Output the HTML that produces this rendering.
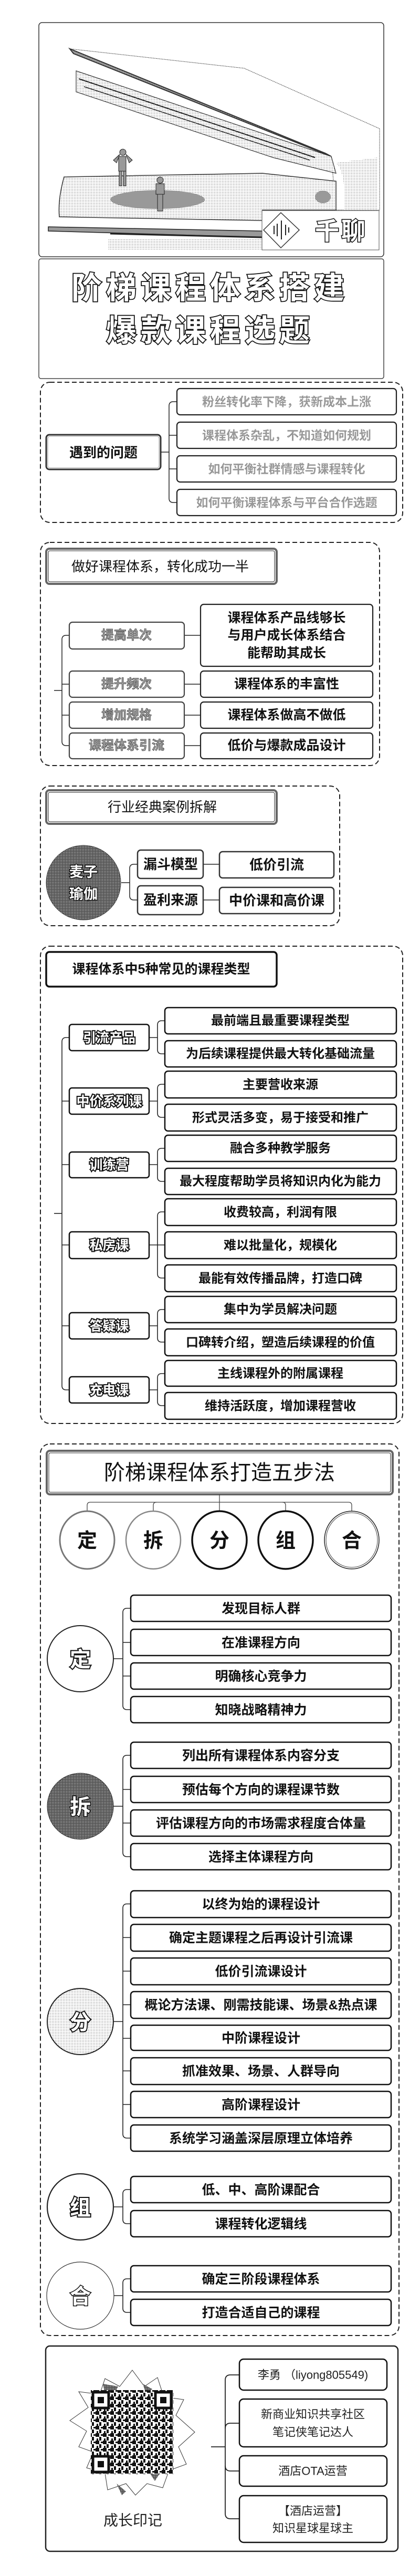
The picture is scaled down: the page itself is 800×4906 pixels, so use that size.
<!DOCTYPE html>
<html><head><meta charset="utf-8">
<style>
html,body{margin:0;padding:0;background:#fff;}
svg{display:block;}
text{font-family:"Liberation Sans","Noto Sans CJK SC",sans-serif;}
.b{font-weight:bold;fill:#111;}
.o{font-weight:bold;fill:#fff;stroke:#111;stroke-width:2.5;paint-order:stroke;}
.g{font-weight:bold;fill:#fff;stroke:#444;stroke-width:2.6;paint-order:stroke;}
</style></head>
<body>
<svg width="800" height="4906" viewBox="0 0 800 4906" xmlns="http://www.w3.org/2000/svg">
<defs>
<pattern id="dots" width="3" height="3" patternUnits="userSpaceOnUse"><rect width="3" height="3" fill="#fff"/><rect width="1" height="1" fill="#555"/></pattern>
<pattern id="dark" width="3" height="3" patternUnits="userSpaceOnUse"><rect width="3" height="3" fill="#555"/><rect width="1" height="1" fill="#fff"/></pattern>
<pattern id="mid" width="2" height="2" patternUnits="userSpaceOnUse"><rect width="2" height="2" fill="#fff"/><rect width="1" height="1" fill="#333"/><rect x="1" y="1" width="1" height="1" fill="#333"/></pattern>
<pattern id="qr" width="14" height="14" patternUnits="userSpaceOnUse"><rect width="14" height="14" fill="#fff"/><rect x="0" y="0" width="7" height="7" fill="#111"/><rect x="7" y="7" width="4" height="7" fill="#111"/><rect x="10" y="2" width="4" height="3" fill="#111"/><rect x="2" y="10" width="3" height="4" fill="#111"/></pattern>
</defs>

<!-- ===== Header image ===== -->
<rect x="74" y="43" width="657" height="446" rx="6" fill="#fff" stroke="#333" stroke-width="1.5"/>
<polygon points="133,93 465,130 723,245 723,400 640,400 631,298" fill="#fff" stroke="#444" stroke-width="1" stroke-dasharray="2 1"/>
<polygon points="133,93 140,102 631,298 620,292" fill="url(#mid)" stroke="#333" stroke-width="2"/>
<polygon points="145,135 631,298 640,330 520,300 145,175" fill="url(#dots)" stroke="#333" stroke-width="1.2"/>
<line x1="150" y1="150" x2="600" y2="300" stroke="#222" stroke-width="2"/>
<line x1="160" y1="165" x2="590" y2="305" stroke="#222" stroke-width="1.5"/>
<path d="M640,310 Q660,330 655,400 L720,400 L720,300 Z" fill="url(#dots)"/>
<path d="M122,337 L500,330 L640,345 L640,400 L500,400 L500,420 L113,413 Q110,380 122,337 Z" fill="url(#dots)" stroke="#333" stroke-width="1.5"/>
<ellipse cx="300" cy="380" rx="90" ry="18" fill="url(#mid)"/>
<ellipse cx="615" cy="375" rx="15" ry="12" fill="url(#mid)"/>
<path d="M92,432 L500,440 L500,452 L92,440 Z" fill="url(#mid)" stroke="#222" stroke-width="1.5"/>
<path d="M205,455 L500,455 L500,475 L205,475 Z" fill="url(#dots)"/>
<line x1="210" y1="445" x2="500" y2="452" stroke="#222" stroke-width="3"/>
<g fill="url(#mid)" stroke="#222" stroke-width="1">
<circle cx="234" cy="290" r="6"/><rect x="226" y="298" width="14" height="28"/><rect x="227" y="326" width="5" height="28"/><rect x="235" y="326" width="5" height="28"/>
<path d="M228,294 L216,305 L222,310 Z"/><path d="M240,294 L252,305 L246,310 Z"/>
<circle cx="305" cy="343" r="6"/><rect x="297" y="350" width="16" height="20"/><rect x="300" y="370" width="10" height="32"/>
</g>
<rect x="499" y="401" width="223" height="75" fill="#fff" stroke="#555" stroke-width="1"/>
<polygon points="535,405 570,438 535,472 502,438" fill="#fff" stroke="#333" stroke-width="1.5"/>
<g stroke="#222" stroke-width="2"><line x1="522" y1="430" x2="522" y2="446"/><line x1="528" y1="426" x2="528" y2="450"/><line x1="536" y1="420" x2="536" y2="456"/><line x1="544" y1="428" x2="544" y2="448"/><line x1="550" y1="433" x2="550" y2="443"/></g>
<text x="650" y="440" font-size="46" text-anchor="middle" dominant-baseline="central" class="o" letter-spacing="4" style="stroke-width:3">千聊</text>

<!-- ===== Title ===== -->
<rect x="74" y="493" width="657" height="228" rx="4" fill="#fff" stroke="#444" stroke-width="1.5"/>
<text x="400" y="549" font-size="58" text-anchor="middle" dominant-baseline="central" class="o" letter-spacing="8" style="stroke-width:3.5">阶梯课程体系搭建</text>
<text x="400" y="630" font-size="58" text-anchor="middle" dominant-baseline="central" class="o" letter-spacing="8" style="stroke-width:3.5">爆款课程选题</text>

<g fill="none" stroke="#222" stroke-width="2" stroke-dasharray="9 5">
<rect x="77" y="728" width="690" height="267" rx="18"/>
<rect x="77" y="1033" width="646" height="425" rx="18"/>
<rect x="77" y="1497" width="570" height="266" rx="18"/>
<rect x="77" y="1802" width="690" height="909" rx="18"/>
<rect x="77" y="2750" width="683" height="1698" rx="18"/>
</g>

<!-- ===== Section 1 ===== -->
<rect x="88" y="828" width="218" height="66" rx="6" fill="#fff" stroke="#333" stroke-width="3"/>
<rect x="91" y="831" width="212" height="60" rx="4" fill="none" stroke="#999" stroke-width="1"/>
<text x="197" y="862" font-size="26" text-anchor="middle" dominant-baseline="central" class="b">遇到的问题</text>
<g fill="none" stroke="#222" stroke-width="1.5">
<path d="M306,861 H322"/>
<path d="M337,765 H330 Q322,765 322,773 V949 Q322,957 330,957 H337"/>
<path d="M322,829 H337 M322,893 H337"/>
</g>
<g fill="#fff" stroke="#222" stroke-width="2.2">
<rect x="337" y="740" width="418" height="50" rx="6"/><rect x="337" y="804" width="418" height="50" rx="6"/>
<rect x="337" y="868" width="418" height="50" rx="6"/><rect x="337" y="932" width="418" height="50" rx="6"/>
</g>
<g font-size="23" text-anchor="middle" dominant-baseline="central" font-weight="bold" fill="url(#mid)">
<text x="546" y="765">粉丝转化率下降，获新成本上涨</text>
<text x="546" y="829">课程体系杂乱，不知道如何规划</text>
<text x="546" y="893">如何平衡社群情感与课程转化</text>
<text x="546" y="957">如何平衡课程体系与平台合作选题</text>
</g>

<!-- ===== Section 2 ===== -->
<rect x="88" y="1045" width="439" height="67" rx="6" fill="#fff" stroke="#666" stroke-width="4"/>
<rect x="92" y="1049" width="431" height="59" rx="3" fill="none" stroke="#222" stroke-width="1"/>
<text x="305" y="1079" font-size="26" text-anchor="middle" dominant-baseline="central" fill="#111">做好课程体系，转化成功一半</text>
<g fill="none" stroke="#222" stroke-width="1.5">
<path d="M103,1315 H118"/>
<path d="M132,1210 H126 Q118,1210 118,1218 V1412 Q118,1420 126,1420 H132"/>
<path d="M118,1303 H132 M118,1362 H132"/>
<path d="M351,1210 H382 M351,1303 H382 M351,1362 H382 M351,1420 H382"/>
</g>
<g fill="#fff" stroke="#444" stroke-width="2.2">
<rect x="132" y="1185" width="219" height="51" rx="6"/><rect x="132" y="1278" width="219" height="50" rx="6"/>
<rect x="132" y="1337" width="219" height="50" rx="6"/><rect x="132" y="1396" width="219" height="49" rx="6"/>
</g>
<g fill="#fff" stroke="#222" stroke-width="2.2">
<rect x="382" y="1151" width="328" height="118" rx="6"/><rect x="382" y="1278" width="328" height="50" rx="6"/>
<rect x="382" y="1337" width="328" height="50" rx="6"/><rect x="382" y="1396" width="328" height="49" rx="6"/>
</g>
<g font-size="24" text-anchor="middle" dominant-baseline="central" font-weight="bold" fill="url(#mid)" stroke="#555" stroke-width="0.8">
<text x="241" y="1210">提高单次</text><text x="241" y="1303">提升频次</text>
<text x="241" y="1362">增加规格</text><text x="241" y="1420">课程体系引流</text>
</g>
<g font-size="25" text-anchor="middle" dominant-baseline="central" class="b">
<text x="546" y="1177">课程体系产品线够长</text><text x="546" y="1210">与用户成长体系结合</text><text x="546" y="1244">能帮助其成长</text>
<text x="546" y="1303">课程体系的丰富性</text><text x="546" y="1362">课程体系做高不做低</text><text x="546" y="1420">低价与爆款成品设计</text>
</g>

<!-- ===== Section 3 ===== -->
<rect x="88" y="1505" width="439" height="64" rx="6" fill="#fff" stroke="#666" stroke-width="4"/>
<rect x="92" y="1509" width="431" height="56" rx="3" fill="none" stroke="#222" stroke-width="1"/>
<text x="309" y="1537" font-size="26" text-anchor="middle" dominant-baseline="central" fill="#111">行业经典案例拆解</text>
<circle cx="159" cy="1681" r="71" fill="url(#dark)" stroke="#444" stroke-width="1"/>
<text x="159" y="1661" font-size="27" text-anchor="middle" dominant-baseline="central" class="o" style="stroke-width:3">麦子</text>
<text x="159" y="1703" font-size="27" text-anchor="middle" dominant-baseline="central" class="o" style="stroke-width:3">瑜伽</text>
<g fill="none" stroke="#222" stroke-width="1.5">
<path d="M231,1681 H247"/>
<path d="M262,1646 H255 Q247,1646 247,1654 V1706 Q247,1714 255,1714 H262"/>
<path d="M387,1646 H418 M387,1714 H418"/>
</g>
<g fill="#fff" stroke="#333" stroke-width="2.5">
<rect x="262" y="1619" width="125" height="54" rx="6"/><rect x="262" y="1687" width="125" height="55" rx="6"/>
<rect x="418" y="1622" width="218" height="50" rx="6"/><rect x="418" y="1690" width="218" height="50" rx="6"/>
</g>
<g font-size="26" text-anchor="middle" dominant-baseline="central" class="b">
<text x="325" y="1646">漏斗模型</text><text x="325" y="1714">盈利来源</text>
<text x="527" y="1647">低价引流</text><text x="527" y="1715">中价课和高价课</text>
</g>

<!-- ===== Section 4 ===== -->
<rect x="88" y="1813" width="439" height="66" rx="6" fill="#fff" stroke="#111" stroke-width="3.5"/>
<text x="307" y="1846" font-size="25" text-anchor="middle" dominant-baseline="central" class="b">课程体系中5种常见的课程类型</text>
<g fill="none" stroke="#222" stroke-width="1.6">
<path d="M103,2311 H118"/>
<path d="M132,1976 H126 Q118,1976 118,1984 V2639 Q118,2647 126,2647 H132"/>
<path d="M118,2097 H132 M118,2218 H132 M118,2371 H132 M118,2525 H132"/>
<path d="M284,1976 H300 M314,1944 H308 Q300,1944 300,1952 V1999 Q300,2007 308,2007 H314"/>
<path d="M284,2097 H300 M314,2065 H308 Q300,2065 300,2073 V2120 Q300,2128 308,2128 H314"/>
<path d="M284,2218 H300 M314,2187 H308 Q300,2187 300,2195 V2242 Q300,2250 308,2250 H314"/>
<path d="M284,2371 H314 M314,2308 H308 Q300,2308 300,2316 V2426 Q300,2434 308,2434 H314"/>
<path d="M284,2525 H300 M314,2494 H308 Q300,2494 300,2502 V2548 Q300,2556 308,2556 H314"/>
<path d="M284,2647 H300 M314,2616 H308 Q300,2616 300,2624 V2669 Q300,2677 308,2677 H314"/>
</g>
<g fill="#fff" stroke="#111" stroke-width="2.5">
<rect x="132" y="1951" width="152" height="50" rx="5"/><rect x="132" y="2072" width="152" height="50" rx="5"/>
<rect x="132" y="2194" width="152" height="49" rx="5"/><rect x="132" y="2346" width="152" height="51" rx="5"/>
<rect x="132" y="2500" width="152" height="50" rx="5"/><rect x="132" y="2622" width="152" height="50" rx="5"/>
<rect x="314" y="1919" width="441" height="50" rx="6"/><rect x="314" y="1982" width="441" height="50" rx="6"/>
<rect x="314" y="2040" width="441" height="51" rx="6"/><rect x="314" y="2103" width="441" height="51" rx="6"/>
<rect x="314" y="2162" width="441" height="50" rx="6"/><rect x="314" y="2225" width="441" height="50" rx="6"/>
<rect x="314" y="2283" width="441" height="51" rx="6"/><rect x="314" y="2346" width="441" height="51" rx="6"/>
<rect x="314" y="2409" width="441" height="51" rx="6"/><rect x="314" y="2469" width="441" height="50" rx="6"/>
<rect x="314" y="2531" width="441" height="51" rx="6"/><rect x="314" y="2591" width="441" height="49" rx="6"/>
<rect x="314" y="2652" width="441" height="51" rx="6"/>
</g>
<g font-size="25" text-anchor="middle" dominant-baseline="central" class="o" style="stroke-width:4">
<text x="208" y="1977">引流产品</text><text x="208" y="2098">中价系列课</text><text x="208" y="2219">训练营</text>
<text x="208" y="2372">私房课</text><text x="208" y="2526">答疑课</text><text x="208" y="2648">充电课</text>
</g>
<g font-size="24" text-anchor="middle" dominant-baseline="central" class="b">
<text x="534" y="1944">最前端且最重要课程类型</text><text x="534" y="2007">为后续课程提供最大转化基础流量</text>
<text x="534" y="2066">主要营收来源</text><text x="534" y="2129">形式灵活多变，易于接受和推广</text>
<text x="534" y="2187">融合多种教学服务</text><text x="534" y="2250">最大程度帮助学员将知识内化为能力</text>
<text x="534" y="2309">收费较高，利润有限</text><text x="534" y="2372">难以批量化，规模化</text>
<text x="534" y="2435">最能有效传播品牌，打造口碑</text><text x="534" y="2494">集中为学员解决问题</text>
<text x="534" y="2557">口碑转介绍，塑造后续课程的价值</text><text x="534" y="2616">主线课程外的附属课程</text>
<text x="534" y="2678">维持活跃度，增加课程营收</text>
</g>

<!-- ===== Section 5 ===== -->
<rect x="89" y="2763" width="659" height="83" rx="6" fill="#fff" stroke="#666" stroke-width="4"/>
<rect x="93" y="2767" width="651" height="75" rx="3" fill="none" stroke="#222" stroke-width="1"/>
<text x="418" y="2805" font-size="40" text-anchor="middle" dominant-baseline="central" fill="#111">阶梯课程体系打造五步法</text>
<g fill="none" stroke="#444" stroke-width="1.3">
<path d="M418,2846 V2878"/>
<path d="M166,2878 V2867 Q166,2861 172,2861 H664 Q670,2861 670,2867 V2878"/>
<path d="M292,2878 V2867 Q292,2861 298,2861 M544,2878 V2867 Q544,2861 538,2861"/>
</g>
<ellipse cx="166" cy="2933" rx="52" ry="55" fill="#fff" stroke="#777" stroke-width="3"/>
<ellipse cx="292" cy="2933" rx="52" ry="55" fill="#fff" stroke="#888" stroke-width="2.5"/>
<ellipse cx="418" cy="2933" rx="52" ry="55" fill="#fff" stroke="#111" stroke-width="3.5"/>
<ellipse cx="544" cy="2933" rx="52" ry="55" fill="#fff" stroke="#111" stroke-width="3.5"/>
<ellipse cx="670" cy="2933" rx="52" ry="55" fill="#fff" stroke="#222" stroke-width="1.5"/>
<ellipse cx="670" cy="2933" rx="49" ry="52" fill="none" stroke="#444" stroke-width="1"/>
<g font-size="38" text-anchor="middle" dominant-baseline="central" class="b">
<text x="166" y="2935">定</text><text x="292" y="2935">拆</text><text x="418" y="2935">分</text><text x="544" y="2935">组</text><text x="670" y="2935">合</text>
</g>

<circle cx="153" cy="3159" r="63" fill="#fff" stroke="#222" stroke-width="2"/>
<text x="153" y="3161" font-size="40" text-anchor="middle" dominant-baseline="central" class="o" style="stroke-width:4">定</text>
<circle cx="153" cy="3440" r="63" fill="url(#dark)" stroke="#333" stroke-width="1"/>
<text x="153" y="3442" font-size="40" text-anchor="middle" dominant-baseline="central" class="o" style="stroke-width:3">拆</text>
<circle cx="153" cy="3850" r="63" fill="url(#dots)" stroke="#222" stroke-width="2"/>
<text x="153" y="3852" font-size="40" text-anchor="middle" dominant-baseline="central" class="o" style="stroke-width:4">分</text>
<circle cx="153" cy="4203" r="63" fill="#fff" stroke="#222" stroke-width="2.2"/>
<text x="153" y="4205" font-size="40" text-anchor="middle" dominant-baseline="central" class="o" style="stroke-width:4">组</text>
<circle cx="153" cy="4372" r="64" fill="#fff" stroke="#333" stroke-width="1.2"/>
<text x="153" y="4374" font-size="40" text-anchor="middle" dominant-baseline="central" class="o" style="stroke-width:3">合</text>

<g fill="none" stroke="#222" stroke-width="1.6">
<path d="M216,3159 H234 M249,3063 H242 Q234,3063 234,3071 V3248 Q234,3256 242,3256 H249 M234,3128 H249 M234,3192 H249"/>
<path d="M216,3440 H234 M249,3343 H242 Q234,3343 234,3351 V3528 Q234,3536 242,3536 H249 M234,3408 H249 M234,3472 H249"/>
<path d="M216,3850 H234 M249,3626 H242 Q234,3626 234,3634 V4064 Q234,4072 242,4072 H249 M234,3690 H249 M234,3754 H249 M234,3818 H249 M234,3882 H249 M234,3944 H249 M234,4008 H249"/>
<path d="M216,4203 H234 M249,4170 H242 Q234,4170 234,4178 V4227 Q234,4235 242,4235 H249"/>
<path d="M217,4372 H234 M249,4340 H242 Q234,4340 234,4348 V4396 Q234,4404 242,4404 H249"/>
</g>
<g fill="#fff" stroke="#111" stroke-width="2.5">
<rect x="249" y="3038" width="496" height="50" rx="6"/><rect x="249" y="3103" width="496" height="50" rx="6"/>
<rect x="249" y="3167" width="496" height="50" rx="6"/><rect x="249" y="3231" width="496" height="50" rx="6"/>
<rect x="249" y="3318" width="496" height="50" rx="6"/><rect x="249" y="3383" width="496" height="50" rx="6"/>
<rect x="249" y="3447" width="496" height="50" rx="6"/><rect x="249" y="3511" width="496" height="50" rx="6"/>
<rect x="249" y="3601" width="496" height="51" rx="6"/><rect x="249" y="3665" width="496" height="51" rx="6"/>
<rect x="249" y="3729" width="496" height="51" rx="6"/><rect x="249" y="3793" width="496" height="51" rx="6"/>
<rect x="249" y="3857" width="496" height="48" rx="6"/><rect x="249" y="3919" width="496" height="51" rx="6"/>
<rect x="249" y="3983" width="496" height="50" rx="6"/><rect x="249" y="4047" width="496" height="50" rx="6"/>
<rect x="249" y="4145" width="496" height="50" rx="6"/><rect x="249" y="4210" width="496" height="50" rx="6"/>
<rect x="249" y="4315" width="496" height="50" rx="6"/><rect x="249" y="4379" width="496" height="50" rx="6"/>
</g>
<g font-size="25" text-anchor="middle" dominant-baseline="central" class="b">
<text x="497" y="3064">发现目标人群</text><text x="497" y="3129">在准课程方向</text>
<text x="497" y="3193">明确核心竞争力</text><text x="497" y="3257">知晓战略精神力</text>
<text x="497" y="3344">列出所有课程体系内容分支</text><text x="497" y="3409">预估每个方向的课程课节数</text>
<text x="497" y="3473">评估课程方向的市场需求程度合体量</text><text x="497" y="3537">选择主体课程方向</text>
<text x="497" y="3627">以终为始的课程设计</text><text x="497" y="3691">确定主题课程之后再设计引流课</text>
<text x="497" y="3755">低价引流课设计</text><text x="497" y="3819">概论方法课、刚需技能课、场景&amp;热点课</text>
<text x="497" y="3882">中阶课程设计</text><text x="497" y="3945">抓准效果、场景、人群导向</text>
<text x="497" y="4009">高阶课程设计</text><text x="497" y="4073">系统学习涵盖深层原理立体培养</text>
<text x="497" y="4171">低、中、高阶课配合</text><text x="497" y="4236">课程转化逻辑线</text>
<text x="497" y="4341">确定三阶段课程体系</text><text x="497" y="4405">打造合适自己的课程</text>
</g>

<!-- ===== Footer ===== -->
<rect x="87" y="4468" width="671" height="391" rx="8" fill="#fff" stroke="#222" stroke-width="2.5"/>
<polygon points="252,4514 275,4545 300,4528 312,4565 350,4570 335,4600 371,4632 340,4660 355,4693 322,4705 310,4738 280,4730 258,4752 240,4730 205,4742 200,4710 165,4700 178,4670 150,4660 165,4630 133,4610 168,4585 150,4555 190,4560 200,4530 228,4545" fill="#fff" stroke="#333" stroke-width="1"/>
<polygon points="196,4540 225,4545 215,4565 200,4560" fill="url(#dark)"/>
<polygon points="272,4540 290,4550 280,4565" fill="url(#dark)"/>
<polygon points="222,4730 240,4745 232,4752" fill="url(#dark)"/>
<polygon points="282,4705 308,4705 295,4725" fill="url(#dark)"/>
<rect x="173" y="4552" width="157" height="160" fill="url(#qr)"/>
<g fill="#fff" stroke="#111" stroke-width="5">
<rect x="177" y="4556" width="30" height="30"/><rect x="296" y="4556" width="30" height="30"/><rect x="177" y="4678" width="30" height="30"/>
</g>
<g fill="#111"><rect x="186" y="4565" width="12" height="12"/><rect x="305" y="4565" width="12" height="12"/><rect x="186" y="4687" width="12" height="12"/></g>
<text x="253" y="4800" font-size="28" text-anchor="middle" dominant-baseline="central" fill="#222">成长印记</text>
<g fill="none" stroke="#222" stroke-width="1.8">
<path d="M402,4660 H429"/>
<path d="M456,4523 H439 Q429,4523 429,4533 V4787 Q429,4797 439,4797 H456"/>
<path d="M456,4615 H439 Q429,4615 429,4625 M456,4706 H439 Q429,4706 429,4696"/>
</g>
<g fill="#fff" stroke="#111" stroke-width="2.5">
<rect x="456" y="4493" width="281" height="59" rx="8"/><rect x="456" y="4569" width="281" height="91" rx="8"/>
<rect x="456" y="4677" width="281" height="58" rx="8"/><rect x="456" y="4753" width="281" height="89" rx="8"/>
</g>
<g font-size="22" text-anchor="middle" dominant-baseline="central" fill="#222">
<text x="596" y="4523">李勇 （liyong805549)</text>
<text x="596" y="4598">新商业知识共享社区</text><text x="596" y="4632">笔记侠笔记达人</text>
<text x="596" y="4706">酒店OTA运营</text>
<text x="596" y="4782">【酒店运营】</text><text x="596" y="4815">知识星球星球主</text>
</g>
</svg>
</body></html>
